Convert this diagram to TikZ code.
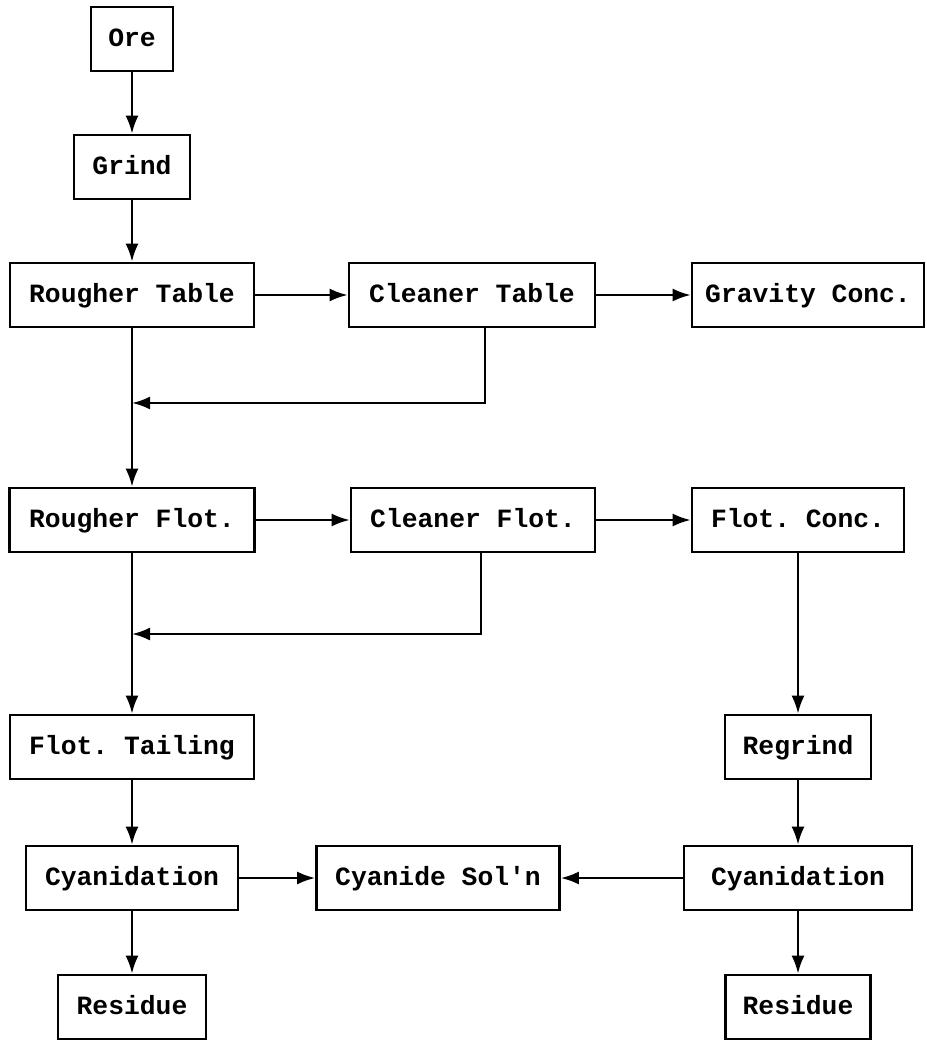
\documentclass[tikz,border=0pt]{standalone}
\usepackage{fontspec}
\setmonofont{Liberation Mono}
\usetikzlibrary{arrows.meta}
\tikzset{
  flowbox/.style={rectangle, draw=black, line width=1.5pt, minimum height=1.28cm, inner sep=0pt,
    text height=3.6mm, text depth=0.6mm, font=\fontsize{15}{18}\selectfont\ttfamily\bfseries},
  flowedge/.style={-{Latex[length=3.6mm,width=2.6mm]}, line width=1.4pt, draw=black},
  flowline/.style={line width=1.4pt, draw=black}
}

\begin{document}
\begin{tikzpicture}
  \useasboundingbox (0,0) rectangle (18.52,-20.82);

  % left column
  \node[flowbox, minimum width=1.64cm] (ore) at (2.64,-0.78) {Ore};
  \node[flowbox, minimum width=2.32cm] (grind) at (2.64,-3.34) {Grind};
  \node[flowbox, minimum width=4.88cm] (rtable) at (2.64,-5.90) {Rougher Table};
  \node[flowbox, minimum width=4.90cm] (rflot) at (2.64,-10.40) {Rougher Flot.};
  \node[flowbox, minimum width=4.88cm] (ftail) at (2.64,-14.94) {Flot. Tailing};
  \node[flowbox, minimum width=4.24cm] (cyanl) at (2.64,-17.56) {Cyanidation};
  \node[flowbox, minimum width=2.96cm] (resl) at (2.64,-20.14) {Residue};

  % middle column
  \node[flowbox, minimum width=4.92cm] (ctable) at (9.44,-5.90) {Cleaner Table};
  \node[flowbox, minimum width=4.88cm] (cflot) at (9.46,-10.40) {Cleaner Flot.};
  \node[flowbox, minimum width=4.86cm] (cysol) at (8.76,-17.56) {Cyanide Sol'n};

  % right column
  \node[flowbox, minimum width=4.64cm] (gconc) at (16.16,-5.90) {Gravity Conc.};
  \node[flowbox, minimum width=4.24cm] (fconc) at (15.96,-10.40) {Flot. Conc.};
  \node[flowbox, minimum width=2.92cm] (regrind) at (15.96,-14.94) {Regrind};
  \node[flowbox, minimum width=4.56cm] (cyanr) at (15.96,-17.56) {Cyanidation};
  \node[flowbox, minimum width=2.90cm] (resr) at (15.96,-20.14) {Residue};

  % return points of the cleaner tailings
  \coordinate (ctret) at (9.70,-8.06);
  \coordinate (cfret) at (9.62,-12.68);

  \draw[flowedge] (ore) -- (grind);
  \draw[flowedge] (grind) -- (rtable);
  \draw[flowedge] (rtable) -- (ctable);
  \draw[flowedge] (ctable) -- (gconc);
  \draw[flowedge] (ctable.south -| ctret) -- (ctret) -- (ctret -| rtable);
  \draw[flowedge] (rtable) -- (rflot);

  \draw[flowedge] (rflot) -- (cflot);
  \draw[flowedge] (cflot) -- (fconc);
  \draw[flowedge] (cflot.south -| cfret) -- (cfret) -- (cfret -| rflot);
  \draw[flowedge] (rflot) -- (ftail);

  \draw[flowedge] (ftail) -- (cyanl);
  \draw[flowedge] (cyanl) -- (resl);
  \draw[flowedge] (cyanl) -- (cysol);

  \draw[flowedge] (fconc) -- (regrind);
  \draw[flowedge] (regrind) -- (cyanr);
  \draw[flowedge] (cyanr) -- (cysol);
  \draw[flowedge] (cyanr) -- (resr);
\end{tikzpicture}
\end{document}
